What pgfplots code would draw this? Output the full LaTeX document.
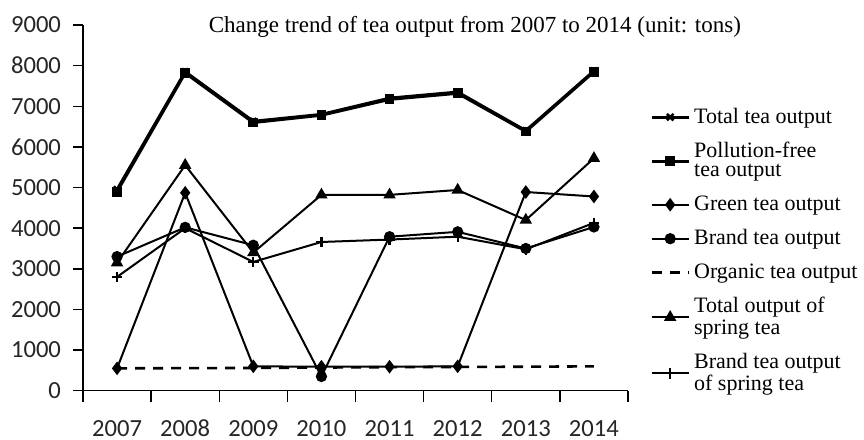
\documentclass[border=0pt]{standalone}
\usepackage{pgfplots}
\pgfplotsset{compat=1.18}
\usepackage{fontspec}
\setmainfont{Liberation Serif}
\newfontfamily\calibri{Carlito}
\begin{document}
\begin{tikzpicture}
\useasboundingbox (0,0) rectangle (432pt,220pt);
\begin{axis}[
  at={(41.5pt,24.65pt)}, anchor=south west,
  scale only axis, width=272.5pt, height=182.85pt,
  xmin=0.5, xmax=8.5, ymin=0, ymax=9000,
  clip=false,
  axis x line=bottom, axis y line=left,
  axis line style={-, line width=0.7pt},
  tick align=outside,
  xtick={1,...,8},
  xticklabels={2007,2008,2009,2010,2011,2012,2013,2014},
  minor xtick={0.5,1.5,...,8.5},
  major x tick style={draw=none},
  minor tick length=5.5pt,
  major tick length=5pt,
  tick style={line width=0.7pt, black},
  ytick={0,1000,...,9000},
  scaled ticks=false,
  /pgf/number format/1000 sep={},
  /pgf/number format/assume math mode=true,
  tick label style={font=\calibri\fontsize{12.3}{14}\selectfont, text=black!85},
  xticklabel style={anchor=base, yshift=-18pt},
  yticklabel style={xshift=-2.5pt},
  legend style={at={(1.04,0.785)}, anchor=north west, draw=none, fill=none,
    inner sep=0pt, row sep=4pt, font=\fontsize{11}{9.6}\selectfont,
    cells={align=left}},
  legend cell align=left,
  legend image code/.code={\draw[mark repeat=2,mark phase=2] plot coordinates {(0cm,0cm) (0.325cm,0cm) (0.65cm,0cm)};},
]
\addplot[black, line width=1.5pt, mark=x, mark size=2.3pt, mark options={line width=1.3pt, solid}]
 coordinates {(1,4950) (2,7850) (3,6630) (4,6800) (5,7200) (6,7350) (7,6400) (8,7870)};
\addlegendentry{Total tea output}
\addplot[black, line width=1.5pt, mark=square*, mark size=1.7pt, mark options={solid}]
 coordinates {(1,4900) (2,7820) (3,6600) (4,6780) (5,7170) (6,7320) (7,6380) (8,7850)};
\addlegendentry{Pollution-free\\tea output}
\addplot[black, line width=1pt, mark=diamond*, mark size=2.6pt, mark options={solid}]
 coordinates {(1,550) (2,4870) (3,600) (4,590) (5,590) (6,600) (7,4890) (8,4780)};
\addlegendentry{Green tea output}
\addplot[black, line width=1pt, mark=*, mark size=2.3pt, mark options={solid}]
 coordinates {(1,3300) (2,4020) (3,3580) (4,350) (5,3790) (6,3910) (7,3500) (8,4030)};
\addlegendentry{Brand tea output}
\addplot[black, line width=1.3pt, dash pattern=on 5pt off 4pt]
 coordinates {(1,550) (2,555) (3,560) (4,570) (5,580) (6,585) (7,590) (8,600)};
\addlegendentry{Organic tea output}
\addplot[black, line width=1pt, mark=triangle*, mark size=2.6pt, mark options={solid}]
 coordinates {(1,3150) (2,5550) (3,3400) (4,4820) (5,4820) (6,4940) (7,4200) (8,5720)};
\addlegendentry{Total output of\\spring tea}
\addplot[black, line width=1pt, mark=+, mark size=2.6pt, mark options={solid, line width=1.1pt}]
 coordinates {(1,2800) (2,4000) (3,3170) (4,3660) (5,3720) (6,3790) (7,3480) (8,4130)};
\addlegendentry{Brand tea output\\of spring tea}
\node[font=\fontsize{11.5}{13}\selectfont, anchor=center] at (rel axis cs:0.719,1) [yshift=-1pt] {Change trend of tea output from 2007 to 2014 (unit: tons)};
\end{axis}
\end{tikzpicture}
\end{document}
